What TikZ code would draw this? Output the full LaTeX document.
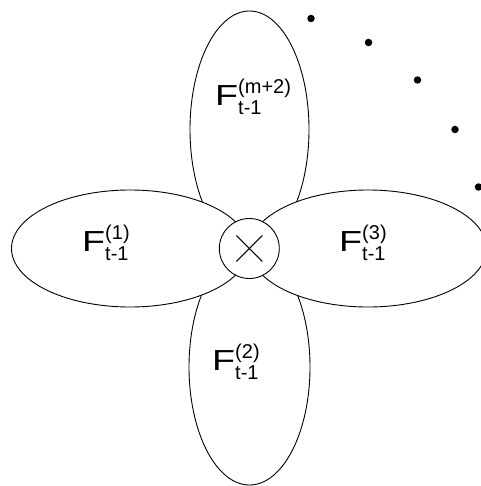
\documentclass[tikz,border=0pt]{standalone}
\usepackage{fontspec}
\setmainfont{Liberation Sans}
\newcommand{\Flab}[2]{\scalebox{1.3}[1]{\fontsize{29}{29}\selectfont F}\rlap{\raisebox{12pt}{\fontsize{20}{20}\selectfont #1}}\raisebox{-9pt}{\fontsize{20}{20}\selectfont #2}}
\begin{document}
\begin{tikzpicture}[x=1pt,y=-1pt,
  petal/.style={draw=black,fill=white,line width=0.9pt},
  hub/.style={draw=black,fill=white,line width=0.9pt,circle,minimum size=60pt,inner sep=0pt},
  lab/.style={inner sep=0pt,anchor=base west},
  dotmark/.style={fill=black,circle,minimum size=7.5pt,inner sep=0pt}]
\useasboundingbox (0,0) rectangle (480,486);
% vertical petals
\draw[petal] (249.5,129.5) ellipse [x radius=59.5, y radius=118.5];
\draw[petal] (249.5,367) ellipse [x radius=60.5, y radius=118];
% horizontal petals
\draw[petal] (130,248.5) ellipse [x radius=118.5, y radius=58.5];
\draw[petal] (368,248.5) ellipse [x radius=118.5, y radius=58.5];
% hub
\node[hub] (c) at (249.3,248.5) {};
\draw[line width=1pt] ([shift={(-13,-13)}]c.center) -- ([shift={(13,13)}]c.center);
\draw[line width=1pt] ([shift={(-13,13)}]c.center) -- ([shift={(13,-13)}]c.center);
% labels (baseline west)
\node[lab] (ltop) at (215,106) {\Flab{(m+2)}{t-1}};
\node[lab] (lleft) at (82,251) {\Flab{(1)}{t-1}};
\node[lab] (lright) at (339,251) {\Flab{(3)}{t-1}};
\node[lab] (lbot) at (212,370) {\Flab{(2)}{t-1}};
% dots
\node[dotmark] (d1) at (311,18.5) {};
\node[dotmark] (d2) at (368.5,42.5) {};
\node[dotmark] (d3) at (417.5,80) {};
\node[dotmark] (d4) at (455,129.5) {};
\node[dotmark] (d5) at (478.5,187) {};
\end{tikzpicture}
\end{document}
